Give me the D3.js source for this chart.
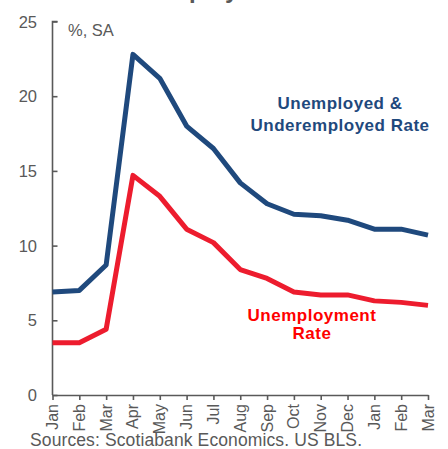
<!DOCTYPE html>
<html><head><meta charset="utf-8">
<script src="https://cdn.jsdelivr.net/npm/d3@7"></script>
<style>body{margin:0;background:#fff}svg{display:block}text{font-family:"Liberation Sans",Arial,sans-serif}</style>
</head><body>
<script>
const months = ["Jan","Feb","Mar","Apr","May","Jun","Jul","Aug","Sep","Oct","Nov","Dec","Jan","Feb","Mar"];
const underemployed = [6.9,7.0,8.7,22.8,21.2,18.0,16.5,14.2,12.8,12.1,12.0,11.7,11.1,11.1,10.7];
const unemployment = [3.5,3.5,4.4,14.7,13.3,11.1,10.2,8.4,7.8,6.9,6.7,6.7,6.3,6.2,6.0];
const yTicks = [0,5,10,15,20,25];

const W=448,H=449;
const svg=d3.select("body").append("svg").attr("width",W).attr("height",H);
const idx=d3.range(months.length);
const x=d3.scaleLinear().domain([0,months.length-1]).range([52.5,428]);
const y=d3.scaleLinear().domain([0,25]).range([395,21.5]);
const grey="#595959";

// title (cut off at top, as in the reference)
svg.append("text").attr("x",209).attr("y",-2).attr("text-anchor","middle")
  .attr("font-size",24).attr("font-weight","bold").attr("fill",grey).text("Unemployment");

// y axis
const ya=svg.append("g").attr("transform",`translate(${x(0)},0)`)
  .call(d3.axisRight(y).tickValues(yTicks).tickSize(5).tickFormat(""));
ya.select(".domain").attr("stroke",grey).attr("stroke-width",1.6).attr("d",`M5,${y(25)}H0V${y(0)}`);
ya.selectAll(".tick line").attr("stroke",grey).attr("stroke-width",1.6);
svg.append("g").selectAll("text").data(yTicks).join("text")
  .attr("x",37).attr("y",d=>y(d)+6).attr("text-anchor","end")
  .attr("font-size",16.5).attr("fill",grey).text(d=>d);

// x axis
const xa=svg.append("g").attr("transform",`translate(0,${y(0)})`)
  .call(d3.axisBottom(x).tickValues(idx).tickSize(5).tickSizeOuter(0).tickFormat(""));
xa.select(".domain").attr("stroke",grey).attr("stroke-width",1.6);
xa.selectAll(".tick line").attr("stroke",grey).attr("stroke-width",1.6);
svg.append("g").selectAll("text").data(idx).join("text")
  .attr("transform",i=>`translate(${x(i)+5.5},${y(0)+9}) rotate(-90)`)
  .attr("text-anchor","end").attr("font-size",16).attr("fill",grey).text(i=>months[i]);

// unit label
svg.append("text").attr("x",68).attr("y",36).attr("font-size",16.5).attr("fill",grey).text("%, SA");

// lines
const line=d3.line().x((d,i)=>x(i)).y(d=>y(d)).curve(d3.curveLinear);
svg.append("path").datum(underemployed).attr("d",line).attr("fill","none")
  .attr("stroke","#1f497d").attr("stroke-width",5).attr("stroke-linejoin","round");
svg.append("path").datum(unemployment).attr("d",line).attr("fill","none")
  .attr("stroke","#ed1c2e").attr("stroke-width",5).attr("stroke-linejoin","round");

// labels
const lbl=(t,xx,yy,c)=>svg.append("text").attr("x",xx).attr("y",yy).attr("text-anchor","middle")
  .attr("font-size",17).attr("font-weight","bold").attr("letter-spacing",0.5).attr("fill",c).text(t);
lbl("Unemployed &",340,109,"#1f497d");
lbl("Underemployed Rate",340,131,"#1f497d");
lbl("Unemployment",312,321,"#ff0000");
lbl("Rate",312,339,"#ff0000");

// source
svg.append("text").attr("x",30).attr("y",446).attr("font-size",17.5).attr("fill",grey)
  .attr("textLength",332).attr("lengthAdjust","spacing")
  .text("Sources: Scotiabank Economics. US BLS.");
</script>
</body></html>
